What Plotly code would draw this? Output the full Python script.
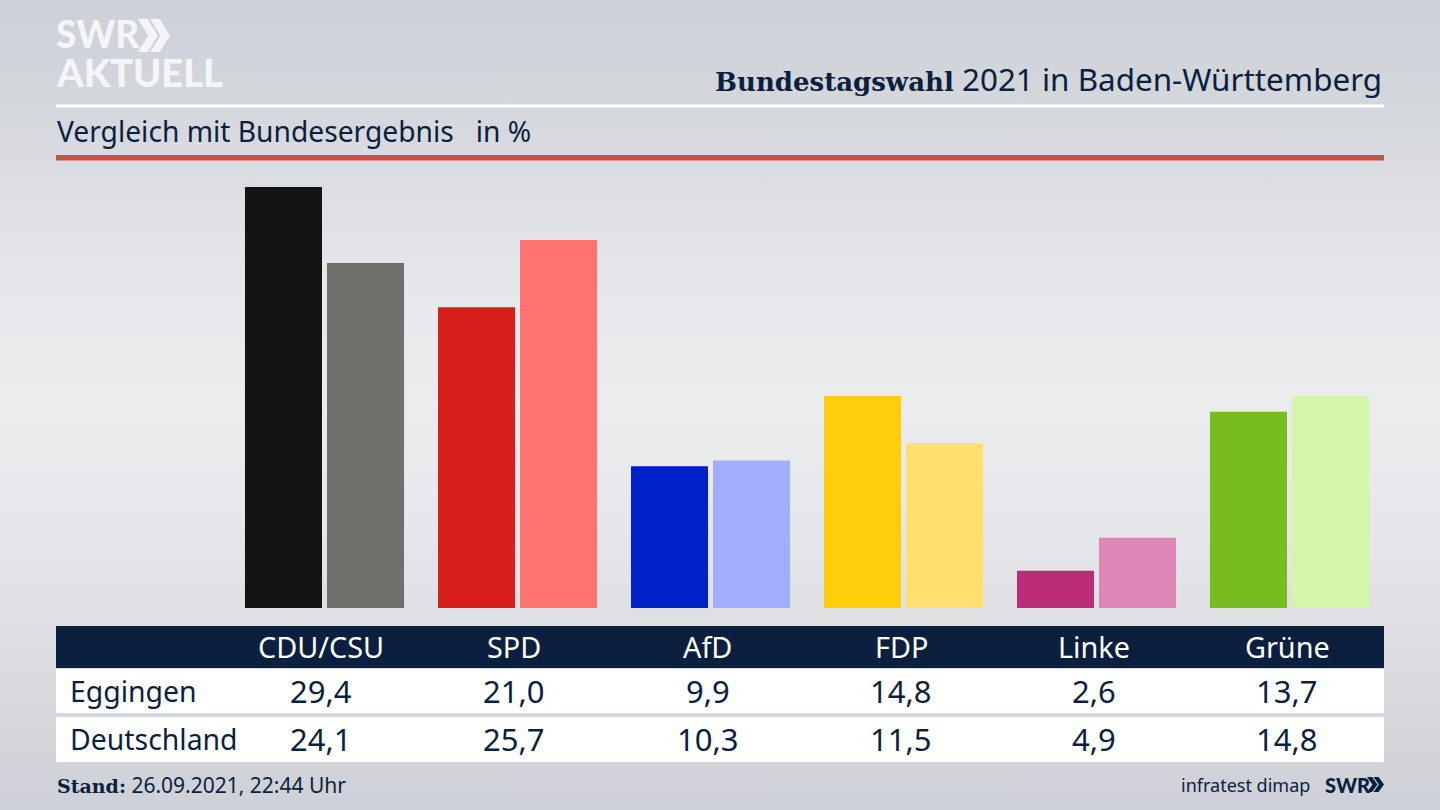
import plotly.graph_objects as go

parties = ["CDU/CSU", "SPD", "AfD", "FDP", "Linke", "Grüne"]
eggingen = [29.4, 21.0, 9.9, 14.8, 2.6, 13.7]
deutschland = [24.1, 25.7, 10.3, 11.5, 4.9, 14.8]
row_names = ["Eggingen", "Deutschland"]
colors_egg = ["#141414", "#d81f1c", "#0021c8", "#ffcd0a", "#bc2d76", "#78bd1e"]
colors_de = ["#716f6b", "#ff726e", "#a0aeff", "#ffe06e", "#e086b6", "#d3f6a8"]

W, H = 1440, 810
NAVY = "#0b1f3f"
FONT = "Noto Sans"
SERIF = "font-family:'DejaVu Serif';font-weight:bold;"


def px(x):
    return x / W


def py(y):
    return 1 - y / H


def fmt(v):
    return f"{v:.1f}".replace(".", ",")


fig = go.Figure()
fig.add_bar(x=parties, y=eggingen, marker_color=colors_egg, marker_line_width=0, name=row_names[0])
fig.add_bar(x=parties, y=deutschland, marker_color=colors_de, marker_line_width=0, name=row_names[1])

shapes = []


def rect(x0, y0, x1, y1, color):
    shapes.append(dict(type="rect", xref="paper", yref="paper", x0=px(x0), x1=px(x1),
                       y0=py(y0), y1=py(y1), fillcolor=color, line_width=0, layer="below"))


def chevrons(x, y, w, h, color):
    cw = w * 0.62
    t = w * 0.30
    for off in (0, w - cw):
        pts = [(x + off, y), (x + off + t, y), (x + off + cw, y + h / 2),
               (x + off + t, y + h), (x + off, y + h), (x + off + cw - t, y + h / 2)]
        path = "M " + " L ".join(f"{px(a):.5f},{py(b):.5f}" for a, b in pts) + " Z"
        shapes.append(dict(type="path", xref="paper", yref="paper", path=path,
                           fillcolor=color, line_width=0))


rect(56, 104.5, 1384, 107.5, "#ffffff")
rect(56, 155, 1384, 160.5, "#c9503f")
rect(56, 626, 1384, 668, NAVY)
rect(56, 669, 1384, 713, "#ffffff")
rect(56, 717, 1384, 762, "#ffffff")
chevrons(138, 19, 32, 33, "#f4f5f6")
chevrons(1367, 777, 17, 15, NAVY)

ann = []


def text(x, y, s, size, color=NAVY, anchor="left", family=FONT, weight=None):
    font = dict(family=family, size=size, color=color)
    if weight:
        font["weight"] = weight
    ann.append(dict(xref="paper", yref="paper", x=px(x), y=py(y), text=s, showarrow=False,
                    xanchor=anchor, yanchor="middle", align=anchor, font=font))


text(54, 34, "SWR", 37, "#f4f5f6", family="Lato", weight=900)
text(54, 72, "AKTUELL", 38, "#f4f5f6", family="Lato", weight=900)
text(1384, 78, f"<span style=\"{SERIF}font-size:26px\">Bundestagswahl</span> 2021 in Baden-Württemberg", 31.4, anchor="right")
text(55, 131, "Vergleich mit Bundesergebnis   in %", 28.2)
text(68, 691, row_names[0], 28.4)
text(68, 739, row_names[1], 28.4)
text(55, 785, f"<span style=\"{SERIF}font-size:19px\">Stand:</span> 26.09.2021, 22:44 Uhr", 21)
text(1312, 785, "infratest dimap", 18, anchor="right")
text(1323, 785, "SWR", 20, family="Lato", weight=900)

centers = [321, 514, 707.5, 901, 1094, 1287]
for c, p, a, b in zip(centers, parties, eggingen, deutschland):
    text(c, 646, p, 28.8, "#ffffff", "center")
    text(c, 691, fmt(a), 31, NAVY, "center")
    text(c, 739, fmt(b), 31, NAVY, "center")

fig.update_layout(
    width=W, height=H, autosize=False,
    margin=dict(l=0, r=0, t=0, b=0),
    paper_bgcolor="rgba(0,0,0,0)", plot_bgcolor="rgba(0,0,0,0)",
    showlegend=False,
    barmode="group", bargap=0.150, bargroupgap=0.061,
    shapes=shapes, annotations=ann,
    xaxis=dict(domain=[px(56), px(1384)], range=[(56 - 324.5) / 193, (1384 - 324.5) / 193],
               showticklabels=False, showgrid=False, zeroline=False, ticks="", fixedrange=True),
    yaxis=dict(domain=[py(608), py(170)], range=[0, 438 / 14.32],
               showticklabels=False, showgrid=False, zeroline=False, ticks="", fixedrange=True),
)

post = """
document.documentElement.style.height='100%';
document.body.style.margin='0';
document.body.style.height='100%';
document.body.style.overflow='hidden';
document.body.style.background='linear-gradient(180deg,#cdd0d6 0%,#d5d8dd 15%,#e6e7ea 35%,#ebeced 50%,#e6e7ea 65%,#d8dade 85%,#cdd0d6 100%)';
"""
fig.write_html("out.html", post_script=post, config=dict(displayModeBar=False))
